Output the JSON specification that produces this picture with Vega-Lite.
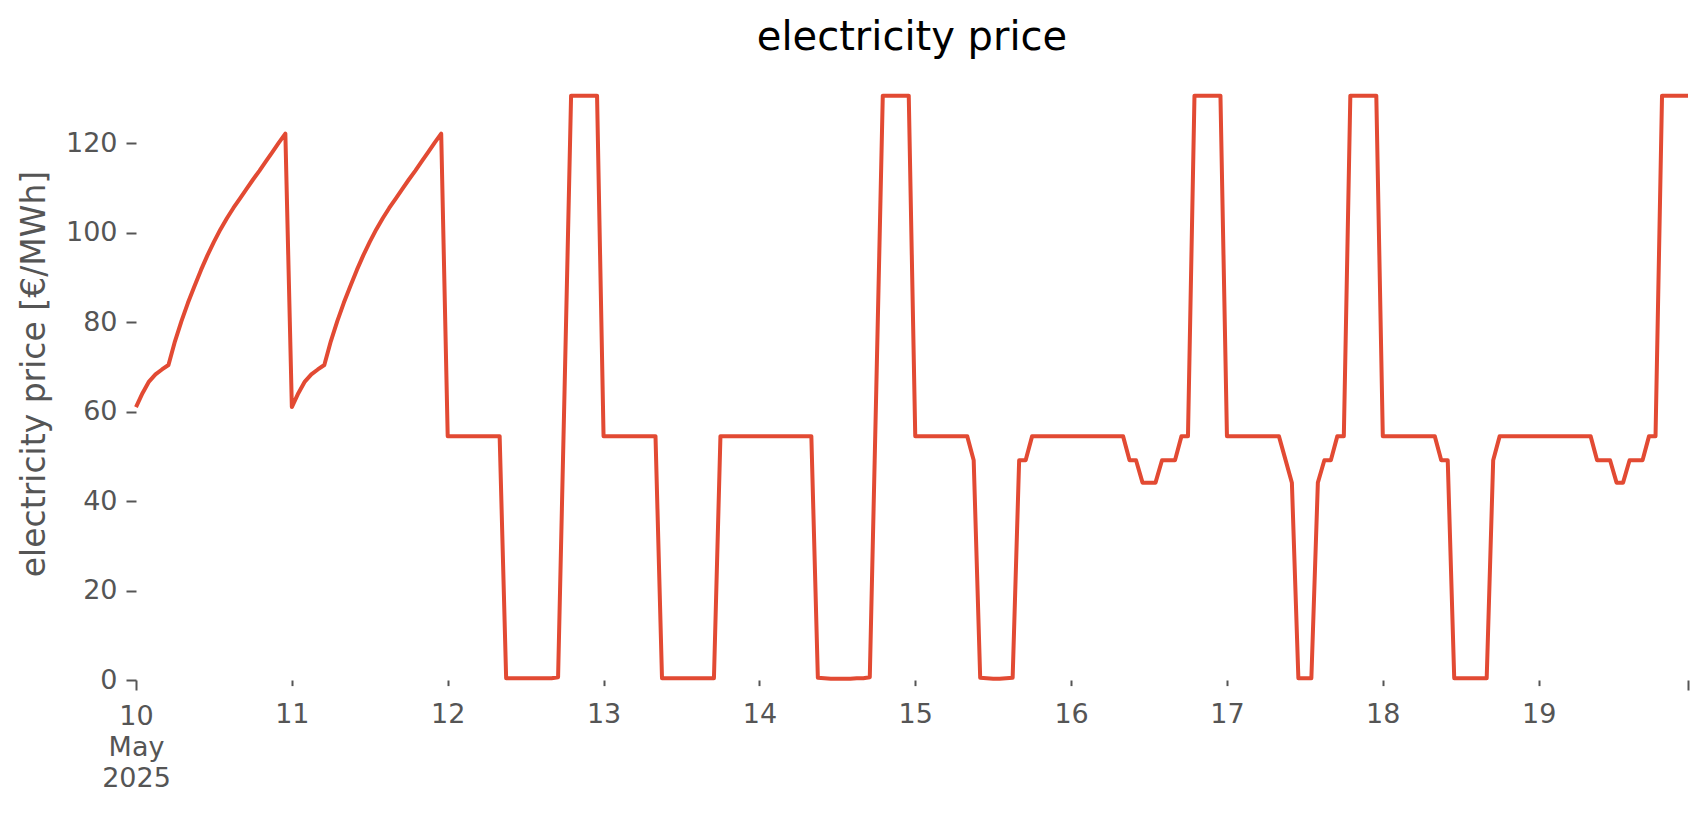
{
  "$schema": "https://vega.github.io/schema/vega-lite/v6.json",
  "autosize": {"type": "none"},
  "padding": {"left": 136, "top": 67, "right": 18, "bottom": 135},
  "width": 1552,
  "height": 613,
  "background": "white",
  "title": {"text": "electricity price", "font": "DejaVu Sans", "fontSize": 40, "fontWeight": "normal", "color": "#000000", "anchor": "middle", "offset": 9},
  "config": {"view": {"stroke": null}},
  "data": {"values": [
    {"t":"2025-05-10T00:00","p":61.0},{"t":"2025-05-10T01:00","p":64.1},{"t":"2025-05-10T02:00","p":66.7},{"t":"2025-05-10T03:00","p":68.3},{"t":"2025-05-10T04:00","p":69.4},{"t":"2025-05-10T05:00","p":70.4},{"t":"2025-05-10T06:00","p":75.7},{"t":"2025-05-10T07:00","p":80.2},{"t":"2025-05-10T08:00","p":84.3},{"t":"2025-05-10T09:00","p":88.0},{"t":"2025-05-10T10:00","p":91.6},{"t":"2025-05-10T11:00","p":94.9},{"t":"2025-05-10T12:00","p":97.9},{"t":"2025-05-10T13:00","p":100.7},{"t":"2025-05-10T14:00","p":103.2},{"t":"2025-05-10T15:00","p":105.5},{"t":"2025-05-10T16:00","p":107.6},{"t":"2025-05-10T17:00","p":109.7},{"t":"2025-05-10T18:00","p":111.8},{"t":"2025-05-10T19:00","p":113.8},{"t":"2025-05-10T20:00","p":115.9},{"t":"2025-05-10T21:00","p":118.0},{"t":"2025-05-10T22:00","p":120.1},{"t":"2025-05-10T23:00","p":122.1},
    {"t":"2025-05-11T00:00","p":61.0},{"t":"2025-05-11T01:00","p":64.1},{"t":"2025-05-11T02:00","p":66.7},{"t":"2025-05-11T03:00","p":68.3},{"t":"2025-05-11T04:00","p":69.4},{"t":"2025-05-11T05:00","p":70.4},{"t":"2025-05-11T06:00","p":75.7},{"t":"2025-05-11T07:00","p":80.2},{"t":"2025-05-11T08:00","p":84.3},{"t":"2025-05-11T09:00","p":88.0},{"t":"2025-05-11T10:00","p":91.6},{"t":"2025-05-11T11:00","p":94.9},{"t":"2025-05-11T12:00","p":97.9},{"t":"2025-05-11T13:00","p":100.7},{"t":"2025-05-11T14:00","p":103.2},{"t":"2025-05-11T15:00","p":105.5},{"t":"2025-05-11T16:00","p":107.6},{"t":"2025-05-11T17:00","p":109.7},{"t":"2025-05-11T18:00","p":111.8},{"t":"2025-05-11T19:00","p":113.8},{"t":"2025-05-11T20:00","p":115.9},{"t":"2025-05-11T21:00","p":118.0},{"t":"2025-05-11T22:00","p":120.1},{"t":"2025-05-11T23:00","p":122.1},
    {"t":"2025-05-12T00:00","p":54.5},{"t":"2025-05-12T01:00","p":54.5},{"t":"2025-05-12T02:00","p":54.5},{"t":"2025-05-12T03:00","p":54.5},{"t":"2025-05-12T04:00","p":54.5},{"t":"2025-05-12T05:00","p":54.5},{"t":"2025-05-12T06:00","p":54.5},{"t":"2025-05-12T07:00","p":54.5},{"t":"2025-05-12T08:00","p":54.5},{"t":"2025-05-12T09:00","p":0.4},{"t":"2025-05-12T10:00","p":0.4},{"t":"2025-05-12T11:00","p":0.4},{"t":"2025-05-12T12:00","p":0.4},{"t":"2025-05-12T13:00","p":0.4},{"t":"2025-05-12T14:00","p":0.4},{"t":"2025-05-12T15:00","p":0.4},{"t":"2025-05-12T16:00","p":0.4},{"t":"2025-05-12T17:00","p":0.6},{"t":"2025-05-12T18:00","p":65.0},{"t":"2025-05-12T19:00","p":130.6},{"t":"2025-05-12T20:00","p":130.6},{"t":"2025-05-12T21:00","p":130.6},{"t":"2025-05-12T22:00","p":130.6},{"t":"2025-05-12T23:00","p":130.6},
    {"t":"2025-05-13T00:00","p":54.5},{"t":"2025-05-13T01:00","p":54.5},{"t":"2025-05-13T02:00","p":54.5},{"t":"2025-05-13T03:00","p":54.5},{"t":"2025-05-13T04:00","p":54.5},{"t":"2025-05-13T05:00","p":54.5},{"t":"2025-05-13T06:00","p":54.5},{"t":"2025-05-13T07:00","p":54.5},{"t":"2025-05-13T08:00","p":54.5},{"t":"2025-05-13T09:00","p":0.4},{"t":"2025-05-13T10:00","p":0.4},{"t":"2025-05-13T11:00","p":0.4},{"t":"2025-05-13T12:00","p":0.4},{"t":"2025-05-13T13:00","p":0.4},{"t":"2025-05-13T14:00","p":0.4},{"t":"2025-05-13T15:00","p":0.4},{"t":"2025-05-13T16:00","p":0.4},{"t":"2025-05-13T17:00","p":0.4},{"t":"2025-05-13T18:00","p":54.5},{"t":"2025-05-13T19:00","p":54.5},{"t":"2025-05-13T20:00","p":54.5},{"t":"2025-05-13T21:00","p":54.5},{"t":"2025-05-13T22:00","p":54.5},{"t":"2025-05-13T23:00","p":54.5},
    {"t":"2025-05-14T00:00","p":54.5},{"t":"2025-05-14T01:00","p":54.5},{"t":"2025-05-14T02:00","p":54.5},{"t":"2025-05-14T03:00","p":54.5},{"t":"2025-05-14T04:00","p":54.5},{"t":"2025-05-14T05:00","p":54.5},{"t":"2025-05-14T06:00","p":54.5},{"t":"2025-05-14T07:00","p":54.5},{"t":"2025-05-14T08:00","p":54.5},{"t":"2025-05-14T09:00","p":0.5},{"t":"2025-05-14T10:00","p":0.4},{"t":"2025-05-14T11:00","p":0.3},{"t":"2025-05-14T12:00","p":0.3},{"t":"2025-05-14T13:00","p":0.3},{"t":"2025-05-14T14:00","p":0.3},{"t":"2025-05-14T15:00","p":0.4},{"t":"2025-05-14T16:00","p":0.4},{"t":"2025-05-14T17:00","p":0.6},{"t":"2025-05-14T18:00","p":65.0},{"t":"2025-05-14T19:00","p":130.6},{"t":"2025-05-14T20:00","p":130.6},{"t":"2025-05-14T21:00","p":130.6},{"t":"2025-05-14T22:00","p":130.6},{"t":"2025-05-14T23:00","p":130.6},
    {"t":"2025-05-15T00:00","p":54.5},{"t":"2025-05-15T01:00","p":54.5},{"t":"2025-05-15T02:00","p":54.5},{"t":"2025-05-15T03:00","p":54.5},{"t":"2025-05-15T04:00","p":54.5},{"t":"2025-05-15T05:00","p":54.5},{"t":"2025-05-15T06:00","p":54.5},{"t":"2025-05-15T07:00","p":54.5},{"t":"2025-05-15T08:00","p":54.5},{"t":"2025-05-15T09:00","p":49.1},{"t":"2025-05-15T10:00","p":0.5},{"t":"2025-05-15T11:00","p":0.4},{"t":"2025-05-15T12:00","p":0.3},{"t":"2025-05-15T13:00","p":0.3},{"t":"2025-05-15T14:00","p":0.4},{"t":"2025-05-15T15:00","p":0.5},{"t":"2025-05-15T16:00","p":49.1},{"t":"2025-05-15T17:00","p":49.1},{"t":"2025-05-15T18:00","p":54.5},{"t":"2025-05-15T19:00","p":54.5},{"t":"2025-05-15T20:00","p":54.5},{"t":"2025-05-15T21:00","p":54.5},{"t":"2025-05-15T22:00","p":54.5},{"t":"2025-05-15T23:00","p":54.5},
    {"t":"2025-05-16T00:00","p":54.5},{"t":"2025-05-16T01:00","p":54.5},{"t":"2025-05-16T02:00","p":54.5},{"t":"2025-05-16T03:00","p":54.5},{"t":"2025-05-16T04:00","p":54.5},{"t":"2025-05-16T05:00","p":54.5},{"t":"2025-05-16T06:00","p":54.5},{"t":"2025-05-16T07:00","p":54.5},{"t":"2025-05-16T08:00","p":54.5},{"t":"2025-05-16T09:00","p":49.1},{"t":"2025-05-16T10:00","p":49.1},{"t":"2025-05-16T11:00","p":44.1},{"t":"2025-05-16T12:00","p":44.1},{"t":"2025-05-16T13:00","p":44.1},{"t":"2025-05-16T14:00","p":49.1},{"t":"2025-05-16T15:00","p":49.1},{"t":"2025-05-16T16:00","p":49.1},{"t":"2025-05-16T17:00","p":54.5},{"t":"2025-05-16T18:00","p":54.5},{"t":"2025-05-16T19:00","p":130.6},{"t":"2025-05-16T20:00","p":130.6},{"t":"2025-05-16T21:00","p":130.6},{"t":"2025-05-16T22:00","p":130.6},{"t":"2025-05-16T23:00","p":130.6},
    {"t":"2025-05-17T00:00","p":54.5},{"t":"2025-05-17T01:00","p":54.5},{"t":"2025-05-17T02:00","p":54.5},{"t":"2025-05-17T03:00","p":54.5},{"t":"2025-05-17T04:00","p":54.5},{"t":"2025-05-17T05:00","p":54.5},{"t":"2025-05-17T06:00","p":54.5},{"t":"2025-05-17T07:00","p":54.5},{"t":"2025-05-17T08:00","p":54.5},{"t":"2025-05-17T09:00","p":49.3},{"t":"2025-05-17T10:00","p":44.1},{"t":"2025-05-17T11:00","p":0.4},{"t":"2025-05-17T12:00","p":0.4},{"t":"2025-05-17T13:00","p":0.4},{"t":"2025-05-17T14:00","p":44.1},{"t":"2025-05-17T15:00","p":49.1},{"t":"2025-05-17T16:00","p":49.1},{"t":"2025-05-17T17:00","p":54.5},{"t":"2025-05-17T18:00","p":54.5},{"t":"2025-05-17T19:00","p":130.6},{"t":"2025-05-17T20:00","p":130.6},{"t":"2025-05-17T21:00","p":130.6},{"t":"2025-05-17T22:00","p":130.6},{"t":"2025-05-17T23:00","p":130.6},
    {"t":"2025-05-18T00:00","p":54.5},{"t":"2025-05-18T01:00","p":54.5},{"t":"2025-05-18T02:00","p":54.5},{"t":"2025-05-18T03:00","p":54.5},{"t":"2025-05-18T04:00","p":54.5},{"t":"2025-05-18T05:00","p":54.5},{"t":"2025-05-18T06:00","p":54.5},{"t":"2025-05-18T07:00","p":54.5},{"t":"2025-05-18T08:00","p":54.5},{"t":"2025-05-18T09:00","p":49.1},{"t":"2025-05-18T10:00","p":49.1},{"t":"2025-05-18T11:00","p":0.4},{"t":"2025-05-18T12:00","p":0.4},{"t":"2025-05-18T13:00","p":0.4},{"t":"2025-05-18T14:00","p":0.4},{"t":"2025-05-18T15:00","p":0.4},{"t":"2025-05-18T16:00","p":0.4},{"t":"2025-05-18T17:00","p":49.1},{"t":"2025-05-18T18:00","p":54.5},{"t":"2025-05-18T19:00","p":54.5},{"t":"2025-05-18T20:00","p":54.5},{"t":"2025-05-18T21:00","p":54.5},{"t":"2025-05-18T22:00","p":54.5},{"t":"2025-05-18T23:00","p":54.5},
    {"t":"2025-05-19T00:00","p":54.5},{"t":"2025-05-19T01:00","p":54.5},{"t":"2025-05-19T02:00","p":54.5},{"t":"2025-05-19T03:00","p":54.5},{"t":"2025-05-19T04:00","p":54.5},{"t":"2025-05-19T05:00","p":54.5},{"t":"2025-05-19T06:00","p":54.5},{"t":"2025-05-19T07:00","p":54.5},{"t":"2025-05-19T08:00","p":54.5},{"t":"2025-05-19T09:00","p":49.1},{"t":"2025-05-19T10:00","p":49.1},{"t":"2025-05-19T11:00","p":49.1},{"t":"2025-05-19T12:00","p":44.1},{"t":"2025-05-19T13:00","p":44.1},{"t":"2025-05-19T14:00","p":49.1},{"t":"2025-05-19T15:00","p":49.1},{"t":"2025-05-19T16:00","p":49.1},{"t":"2025-05-19T17:00","p":54.5},{"t":"2025-05-19T18:00","p":54.5},{"t":"2025-05-19T19:00","p":130.6},{"t":"2025-05-19T20:00","p":130.6},{"t":"2025-05-19T21:00","p":130.6},{"t":"2025-05-19T22:00","p":130.6},{"t":"2025-05-19T23:00","p":130.6}
  ]},
  "mark": {"type": "line", "color": "#E24A33", "strokeWidth": 4, "strokeJoin": "round", "strokeCap": "butt", "clip": false},
  "encoding": {
    "x": {
      "field": "t", "type": "temporal",
      "scale": {"domain": [{"year": 2025, "month": 5, "date": 10, "hours": 0}, {"year": 2025, "month": 5, "date": 19, "hours": 23}], "nice": false},
      "axis": {
        "title": null,
        "grid": false,
        "domain": false,
        "values": [
          {"year": 2025, "month": 5, "date": 10}, {"year": 2025, "month": 5, "date": 11}, {"year": 2025, "month": 5, "date": 12},
          {"year": 2025, "month": 5, "date": 13}, {"year": 2025, "month": 5, "date": 14}, {"year": 2025, "month": 5, "date": 15},
          {"year": 2025, "month": 5, "date": 16}, {"year": 2025, "month": 5, "date": 17}, {"year": 2025, "month": 5, "date": 18},
          {"year": 2025, "month": 5, "date": 19}, {"year": 2025, "month": 5, "date": 19, "hours": 23}
        ],
        "labelExpr": "hours(datum.value) == 23 ? '' : (date(datum.value) == 10 ? ['10', 'May', '2025'] : '' + date(datum.value))",
        "labelFont": "DejaVu Sans",
        "labelFontSize": 27,
        "labelColor": "#555555",
        "labelLineHeight": 31,
        "labelPadding": {"condition": {"test": "date(datum.value) == 10", "value": 13}, "value": 16},
        "labelFlush": false,
        "labelOverlap": false,
        "tickColor": "#555555",
        "tickWidth": 2,
        "tickSize": {"condition": {"test": "date(datum.value) == 10 || hours(datum.value) == 23", "value": 10}, "value": 5.6}
      }
    },
    "y": {
      "field": "p", "type": "quantitative",
      "scale": {"domain": [0, 137], "nice": false, "zero": true},
      "axis": {
        "title": "electricity price [€/MWh]",
        "titleFont": "DejaVu Sans",
        "titleFontSize": 33,
        "titleFontWeight": "normal",
        "titleColor": "#555555",
        "titlePadding": 14,
        "grid": false,
        "domain": false,
        "values": [0, 20, 40, 60, 80, 100, 120],
        "labelFont": "DejaVu Sans",
        "labelFontSize": 27,
        "labelColor": "#555555",
        "labelPadding": 9,
        "tickColor": "#555555",
        "tickWidth": 2,
        "tickSize": 10
      }
    }
  }
}
